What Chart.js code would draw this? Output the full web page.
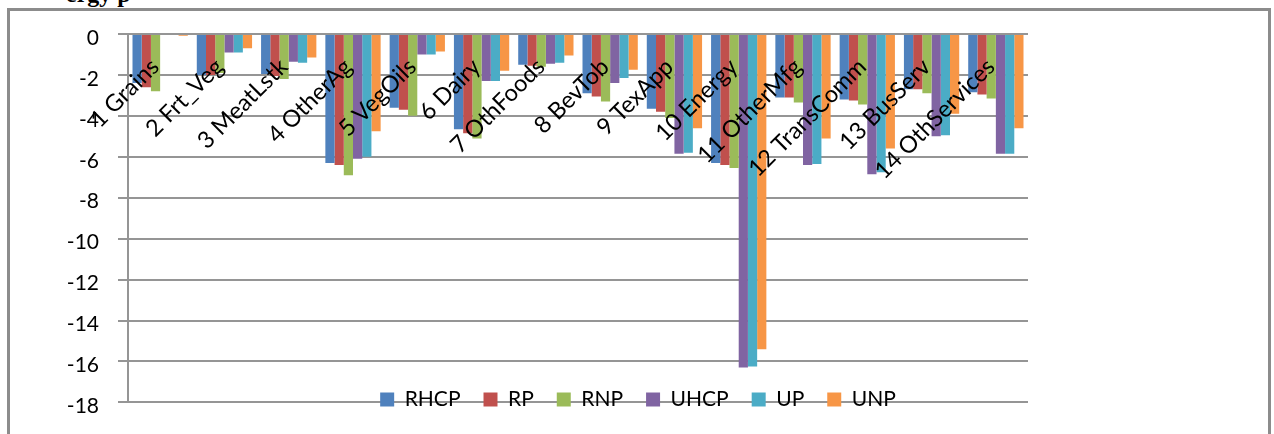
<!DOCTYPE html>
<html><head><meta charset="utf-8">
<script src="https://cdn.jsdelivr.net/npm/chart.js@4/dist/chart.umd.min.js"></script>
<style>
html,body{margin:0;padding:0;background:#fff;overflow:hidden;width:1274px;height:434px;position:relative}
#frame{position:absolute;left:7px;top:8px;width:1264px;height:470px;border:3px solid #8c8c8c;box-sizing:border-box}
#head{position:absolute;left:66px;top:-18px;font:bold 24px "Liberation Serif",serif;line-height:24px;color:#000;white-space:nowrap}
#c{position:absolute;left:0;top:0}
</style></head>
<body>
<div id="head">ergy p</div>
<div id="frame"></div>
<canvas id="c" width="1274" height="434"></canvas>
<script>
const categories = ['1 Grains','2 Frt_Veg','3 MeatLstk','4 OtherAg','5 VegOils','6 Dairy','7 OthFoods','8 BevTob','9 TexApp','10 Energy','11 OtherMfg','12 TransComm','13 BusServ','14 OthServices'];
const seriesNames = ['RHCP','RP','RNP','UHCP','UP','UNP'];
const RHCP = [-2.4, -2.0, -1.95, -6.3, -3.6, -4.65, -1.5, -2.9, -3.65, -6.3, -3.1, -3.2, -2.7, -2.85];
const RP   = [-2.6, -2.0, -2.05, -6.4, -3.7, -4.85, -1.55, -3.05, -3.8, -6.4, -3.1, -3.25, -2.7, -2.95];
const RNP  = [-2.8, -1.9, -2.2, -6.9, -4.0, -5.1, -1.6, -3.3, -4.1, -6.55, -3.35, -3.45, -2.9, -3.15];
const UHCP = [-0.05, -0.9, -1.35, -6.1, -1.0, -2.3, -1.45, -2.4, -5.85, -16.3, -6.4, -6.85, -5.0, -5.85];
const UP   = [-0.05, -0.9, -1.4, -6.0, -1.0, -2.3, -1.4, -2.15, -5.8, -16.25, -6.35, -6.75, -4.95, -5.85];
const UNP  = [-0.08, -0.7, -1.15, -4.75, -0.85, -1.8, -1.05, -1.75, -4.6, -15.4, -5.1, -5.6, -3.9, -4.6];
const yMin = -18, yMax = 0, yStep = 2;
const seriesColors = ['#4F81BD','#C0504D','#9BBB59','#8064A2','#4BACC6','#F79646'];
const seriesData = [RHCP, RP, RNP, UHCP, UP, UNP];

const legendPlacer = {
  id: 'legendPlacer',
  beforeLayout(chart) {
    const lg = chart.legend;
    if (lg && !lg._patched) {
      const orig = lg.fit;
      lg.fit = function () { orig.call(this); this._realHeight = this.height; this.height = 0; };
      lg._patched = true;
    }
  },
  afterLayout(chart) {
    const lg = chart.legend;
    if (!lg) return;
    lg.top = 366;
    lg.height = lg._realHeight || 60;
    lg.bottom = lg.top + lg.height;
    lg.left = 0;
    lg.right = 1276;
    lg.width = lg.right - lg.left;
  }
};

new Chart(document.getElementById('c'), {
  type: 'bar',
  data: {
    labels: categories,
    datasets: seriesNames.map((n, i) => ({
      label: n,
      data: seriesData[i],
      backgroundColor: seriesColors[i],
      borderWidth: 0,
      barPercentage: 1.0,
      categoryPercentage: 0.86
    }))
  },
  options: {
    responsive: false,
    animation: false,
    layout: { padding: { left: 0, right: 246, top: 34, bottom: 30 } },
    plugins: {
      legend: {
        position: 'bottom',
        labels: { boxWidth: 14, boxHeight: 14, padding: 23, color: '#000', font: { family: 'Lato', size: 21 } }
      },
      tooltip: { enabled: false }
    },
    scales: {
      x: {
        position: { y: 0 },
        offset: true,
        grid: { display: false, drawTicks: false },
        border: { display: false },
        ticks: { z: 1, autoSkip: false, maxRotation: 45, minRotation: 45, color: '#000', padding: 19, labelOffset: -5, font: { family: 'Lato', size: 23.5 } }
      },
      y: {
        min: yMin, max: yMax,
        ticks: { stepSize: yStep, color: '#000', padding: 19, labelOffset: 4, font: { family: 'Lato', size: 21 } },
        grid: { color: '#959595', lineWidth: 2, tickLength: 10, tickColor: '#959595', tickWidth: 2 },
        border: { color: '#959595', width: 2 },
        afterFit(s) { s.width = 128; }
      }
    }
  },
  plugins: [legendPlacer]
});
</script>
</body></html>
